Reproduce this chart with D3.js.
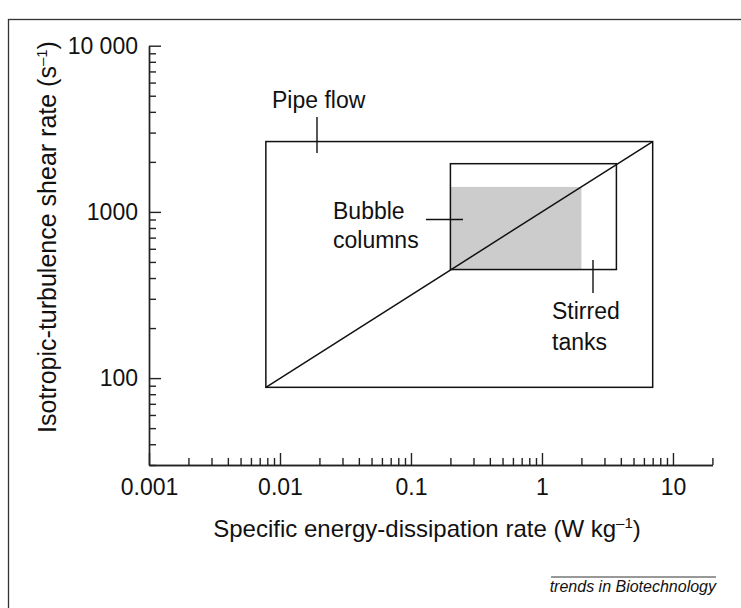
<!DOCTYPE html>
<html><head><meta charset="utf-8">
<script src="https://cdn.jsdelivr.net/npm/d3@7"></script>
<style>body{margin:0;background:#fff}svg{display:block}text{font-family:"Liberation Sans",Arial,Helvetica,sans-serif;fill:#111}</style>
</head><body>
<script>
// ---- data ----
const xMajorTicks = [0.001, 0.01, 0.1, 1, 10];
const xTickLabels = ["0.001", "0.01", "0.1", "1", "10"];
const yMajorTicks = [100, 1000, 10000];
const yTickLabels = ["100", "1000", "10 000"];
const regions = ["Pipe flow", "Stirred tanks", "Bubble columns"];
const epsMin = [0.0078, 0.2, 0.2];
const epsMax = [7, 3.7, 2];
const shearMin = [88, 450, 450];
const shearMax = [2650, 1950, 1414];
const diagonal = [[0.0078, 88], [7, 2650]];

const W = 741, H = 608;
const svg = d3.select("body").append("svg").attr("width", W).attr("height", H);

// frame
svg.append("rect").attr("x", 8.5).attr("y", 19.5).attr("width", 800).attr("height", 700)
  .attr("fill", "none").attr("stroke", "#333").attr("stroke-width", 1.3);

const x = d3.scaleLog().domain([0.001, 20]).range([149, 712.4]);
const y = d3.scaleLog().domain([30, 10000]).range([465, 45.7]);

// minor ticks
const xMinor = [];
for (const d of [0.001, 0.01, 0.1, 1, 10]) for (let k = 2; k <= 9; k++) { const v = d * k; if (v <= 20) xMinor.push(v); }
const yMinor = [];
for (const d of [10, 100, 1000]) for (let k = 2; k <= 9; k++) { const v = d * k; if (v >= 30) yMinor.push(v); }

const fmtX = d => xTickLabels[xMajorTicks.indexOf(d)];
const fmtY = d => yTickLabels[yMajorTicks.indexOf(d)];

const gx = svg.append("g").attr("transform", "translate(0,465)");
gx.append("g").call(d3.axisBottom(x).tickValues(xMinor).tickSizeInner(-7).tickSizeOuter(0).tickFormat(""));
gx.append("g").call(d3.axisBottom(x).tickValues(xMajorTicks).tickSizeInner(-12).tickSizeOuter(0).tickPadding(14).tickFormat(fmtX));
const gy = svg.append("g").attr("transform", "translate(149,0)");
gy.append("g").call(d3.axisLeft(y).tickValues(yMinor).tickSizeInner(-7).tickSizeOuter(0).tickFormat(""));
gy.append("g").call(d3.axisLeft(y).tickValues(yMajorTicks).tickSizeInner(-12).tickSizeOuter(0).tickPadding(11).tickFormat(fmtY));
svg.selectAll(".domain, .tick line").attr("stroke", "#222").attr("stroke-width", 1.4);
svg.selectAll(".tick text").attr("font-size", 23).attr("fill", "#111").style("font-family", '"Liberation Sans",Arial,sans-serif');

// regions
const plot = svg.append("g");
plot.append("rect")
  .attr("x", x(epsMin[2])).attr("y", y(shearMax[2]))
  .attr("width", x(epsMax[2]) - x(epsMin[2])).attr("height", y(shearMin[2]) - y(shearMax[2]))
  .attr("fill", "#cccccc");
[0, 1].forEach(i => {
  plot.append("rect")
    .attr("x", x(epsMin[i])).attr("y", y(shearMax[i]))
    .attr("width", x(epsMax[i]) - x(epsMin[i])).attr("height", y(shearMin[i]) - y(shearMax[i]))
    .attr("fill", "none").attr("stroke", "#111").attr("stroke-width", 1.5);
});
plot.append("line")
  .attr("x1", x(diagonal[0][0])).attr("y1", y(diagonal[0][1]))
  .attr("x2", x(diagonal[1][0])).attr("y2", y(diagonal[1][1]))
  .attr("stroke", "#111").attr("stroke-width", 1.5);

// labels with leader lines
const lab = svg.append("g").attr("font-size", 23);
lab.append("text").attr("x", 272).attr("y", 108).text(regions[0]);
lab.append("line").attr("x1", 317).attr("y1", 117).attr("x2", 317).attr("y2", 153).attr("stroke", "#111").attr("stroke-width", 1.4);
lab.append("text").attr("x", 333).attr("y", 219).text("Bubble");
lab.append("text").attr("x", 333).attr("y", 248).text("columns");
lab.append("line").attr("x1", 426).attr("y1", 219.5).attr("x2", 463).attr("y2", 219.5).attr("stroke", "#111").attr("stroke-width", 1.4);
lab.append("text").attr("x", 552).attr("y", 319).text("Stirred");
lab.append("text").attr("x", 552).attr("y", 350).text("tanks");
lab.append("line").attr("x1", 593).attr("y1", 260).attr("x2", 593).attr("y2", 293).attr("stroke", "#111").attr("stroke-width", 1.4);

// axis titles
const xt = svg.append("text").attr("x", 427).attr("y", 537).attr("text-anchor", "middle").attr("font-size", 24);
xt.append("tspan").text("Specific energy-dissipation rate (W kg");
xt.append("tspan").attr("dy", -9).attr("font-size", 15).text("\u20131");
xt.append("tspan").attr("dy", 9).text(")");
const yt = svg.append("text").attr("transform", "translate(56,237) rotate(-90)").attr("text-anchor", "middle").attr("font-size", 25);
yt.append("tspan").text("Isotropic-turbulence shear rate (s");
yt.append("tspan").attr("dy", -9).attr("font-size", 15).text("\u20131");
yt.append("tspan").attr("dy", 9).text(")");

// footer
svg.append("line").attr("x1", 551).attr("y1", 577).attr("x2", 716).attr("y2", 577).attr("stroke", "#333").attr("stroke-width", 1);
svg.append("text").attr("x", 716).attr("y", 592).attr("text-anchor", "end").attr("font-size", 16).attr("font-style", "italic").text("trends in Biotechnology");
</script>
</body></html>
